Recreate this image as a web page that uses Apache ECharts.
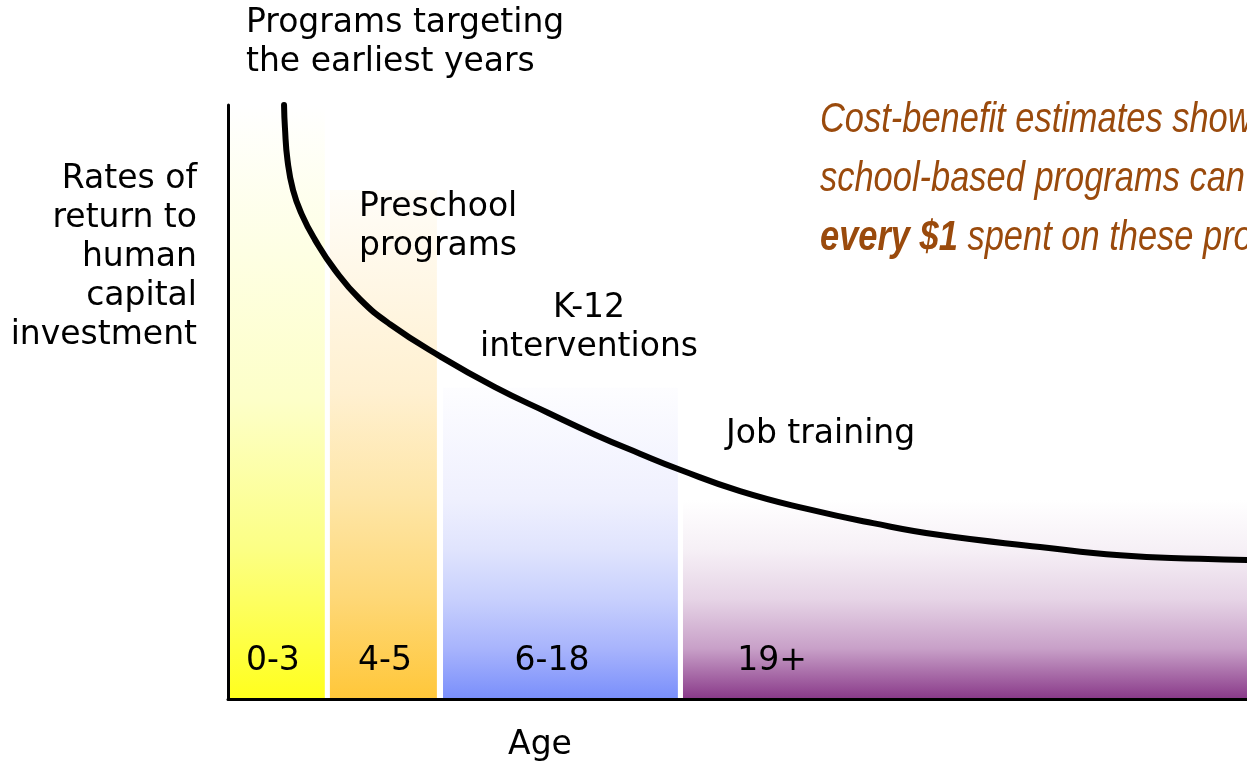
<!DOCTYPE html>
<html>
<head>
<meta charset="utf-8">
<script src="https://cdn.jsdelivr.net/npm/echarts@6/dist/echarts.min.js"></script>
<style>
  html, body { margin: 0; padding: 0; background: #fff; }
  #main { width: 1247px; height: 764px; }
</style>
</head>
<body>
<div id="main"></div>
<script>
// age bands (x in 0-100 chart units, y in 0-100 return units)
var bandNames = ['0-3', '4-5', '6-18', '19+'];
var bandStart = [0, 10.0, 21.1, 44.65];
var bandEnd = [9.5, 20.5, 44.15, 100];
var bandTop = [100, 85.7, 52.4, 33.5];
var bandLabelX = [4.4, 15.4, 31.8, 53.4];
// gradient stops top -> bottom
var bandStops = [
  [[0, '#ffffff'], [0.5, '#fdffc8'], [0.75, '#fcff84'], [1, '#ffff1e']],
  [[0, '#fffdf8'], [0.4, '#fff0d0'], [0.6, '#fee6a8'], [0.8, '#fed878'], [1, '#ffc73a']],
  [[0, '#fdfdff'], [0.36, '#eff0fe'], [0.52, '#e0e4fd'], [0.68, '#c8d0fd'], [0.84, '#a8b4fc'], [1, '#7a8ffb']],
  [[0, '#ffffff'], [0.25, '#f6f0f6'], [0.5, '#e6d4e6'], [0.75, '#c8a0c8'], [1, '#8a3b8a']]
];

// the return curve
var curveX = [5.5, 5.59, 5.84, 6.38, 7.26, 8.54, 10.5, 12.95, 15.9, 20.9, 26.2, 31.4, 36.02, 40.43, 44.36, 50.25, 56.82, 63.3, 69.87, 79.69, 87.54, 95.39, 100];
var curveY = [100, 96.1, 90.7, 85.7, 81.5, 77.3, 72.2, 67.3, 63.1, 57.6, 52.5, 48.2, 44.5, 41.3, 38.6, 35.0, 32.0, 29.6, 27.6, 25.6, 24.2, 23.6, 23.4];

var FONT = '"DejaVu Sans", Verdana, sans-serif';
var ITAL = '"Liberation Sans", Arial, sans-serif';

var bandData = bandNames.map(function (n, i) {
  return [bandStart[i], bandEnd[i], bandLabelX[i], bandTop[i], i];
});
var curveData = curveX.map(function (x, i) { return [x, curveY[i]]; });

var chart = echarts.init(document.getElementById('main'));

function txt(text, x, y, align) {
  return {
    type: 'text', x: x, y: y, z: 100,
    style: { text: text, font: '33px ' + FONT, fill: '#000', lineHeight: 39, align: align, verticalAlign: 'top' }
  };
}

var option = {
  backgroundColor: '#ffffff',
  animation: false,
  grid: { left: 228, right: 0, top: 105, bottom: 65 },
  xAxis: {
    type: 'value', min: 0, max: 100, z: 10,
    axisLine: { show: true, onZero: false, lineStyle: { color: '#000', width: 3 } },
    axisTick: { show: false }, axisLabel: { show: false }, splitLine: { show: false }
  },
  yAxis: {
    type: 'value', min: 0, max: 100, z: 10,
    axisLine: { show: true, onZero: false, lineStyle: { color: '#000', width: 3 } },
    axisTick: { show: false }, axisLabel: { show: false }, splitLine: { show: false }
  },
  series: [
    {
      type: 'custom',
      z: 1,
      data: bandData,
      renderItem: function (params, api) {
        var i = api.value(4);
        var tl = api.coord([api.value(0), api.value(3)]);
        var br = api.coord([api.value(1), 0]);
        var lab = api.coord([api.value(2), 0]);
        return {
          type: 'group',
          children: [
            {
              type: 'rect',
              shape: { x: tl[0], y: tl[1], width: br[0] - tl[0], height: br[1] - tl[1] - 1 },
              style: {
                fill: new echarts.graphic.LinearGradient(0, 0, 0, 1, bandStops[i].map(function (s) {
                  return { offset: s[0], color: s[1] };
                }))
              }
            },
            {
              type: 'text',
              style: {
                text: bandNames[i], x: lab[0], y: lab[1] - 38,
                align: 'center', verticalAlign: 'middle',
                font: '33px ' + FONT, fill: '#000'
              }
            }
          ]
        };
      }
    },
    {
      type: 'line',
      z: 3,
      data: curveData,
      smooth: 0.5,
      showSymbol: false,
      clip: false,
      lineStyle: { color: '#000', width: 6, cap: 'round', join: 'round' }
    }
  ],
  graphic: [
    txt('Programs targeting\nthe earliest years', 246, 4, 'left'),
    txt('Preschool\nprograms', 359, 188, 'left'),
    txt('K-12\ninterventions', 589, 289, 'center'),
    txt('Job training', 726, 415, 'left'),
    txt('Rates of\nreturn to\nhuman\ncapital\ninvestment', 197, 160, 'right'),
    txt('Age', 540, 726, 'center'),
    {
      type: 'text', x: 820, y: 91, z: 100, scaleX: 0.82,
      style: {
        text: '{i|Cost-benefit estimates show}\n{i|school-based programs can}\n{b|every $1}{i| spent on these programs}',
        x: 0, y: 0, align: 'left', verticalAlign: 'top',
        rich: {
          i: { fontFamily: ITAL, fontSize: 42, fontStyle: 'italic', fill: '#9a4a0c', lineHeight: 59 },
          b: { fontFamily: ITAL, fontSize: 42, fontStyle: 'italic', fontWeight: 'bold', fill: '#9a4a0c', lineHeight: 59 }
        }
      }
    }
  ]
};
chart.setOption(option);
</script>
</body>
</html>
